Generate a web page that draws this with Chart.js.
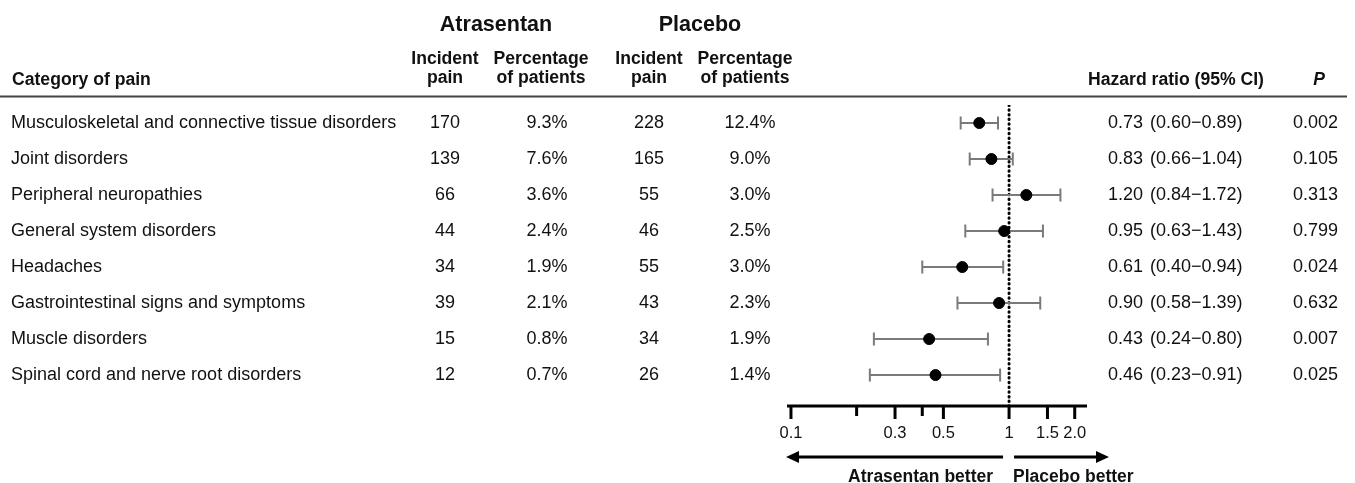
<!DOCTYPE html>
<html>
<head>
  <meta charset="UTF-8">
  <title>Incident pain forest plot</title>
  <script src="https://cdn.jsdelivr.net/npm/chart.js"></script>
  <style>
    body { margin: 0; background: #fff; }
    #wrap { width: 1355px; height: 483px; position: relative; }
  </style>
</head>
<body>
  <div id="wrap"><canvas id="forest"></canvas></div>

  <script>
    const categories = [
      "Musculoskeletal and connective tissue disorders",
      "Joint disorders",
      "Peripheral neuropathies",
      "General system disorders",
      "Headaches",
      "Gastrointestinal signs and symptoms",
      "Muscle disorders",
      "Spinal cord and nerve root disorders"
    ];
    const atrasentanCount = [170, 139, 66, 44, 34, 39, 15, 12];
    const atrasentanPct   = ["9.3%", "7.6%", "3.6%", "2.4%", "1.9%", "2.1%", "0.8%", "0.7%"];
    const placeboCount    = [228, 165, 55, 46, 55, 43, 34, 26];
    const placeboPct      = ["12.4%", "9.0%", "3.0%", "2.5%", "3.0%", "2.3%", "1.9%", "1.4%"];
    const hazardRatio = [0.73, 0.83, 1.20, 0.95, 0.61, 0.90, 0.43, 0.46];
    const ciLow       = [0.60, 0.66, 0.84, 0.63, 0.40, 0.58, 0.24, 0.23];
    const ciHigh      = [0.89, 1.04, 1.72, 1.43, 0.94, 1.39, 0.80, 0.91];
    const pValues     = ["0.002", "0.105", "0.313", "0.799", "0.024", "0.632", "0.007", "0.025"];
    const majorTicks  = [0.1, 0.3, 0.5, 1, 1.5, 2];
    const minorTicks  = [0.2, 0.4];
    const tickLabels  = ["0.1", "0.3", "0.5", "1", "1.5", "2.0"];

    const FONT = '"Liberation Sans", Arial, sans-serif';
    const fmt = v => v.toFixed(2);

    // error bar segments, broken by null points
    const ciData = [];
    hazardRatio.forEach((hr, i) => {
      ciData.push({ x: ciLow[i], y: i }, { x: ciHigh[i], y: i }, { x: 1, y: null });
    });

    const tablePlugin = {
      id: 'table',
      afterDraw(chart) {
        const c = chart.ctx;
        const ys = chart.scales.y;
        const xs = chart.scales.x;
        const area = chart.chartArea;
        c.save();
        c.fillStyle = '#111';
        c.textBaseline = 'middle';

        // header
        c.font = 'bold 21.5px ' + FONT;
        c.textAlign = 'center';
        c.fillText('Atrasentan', 496, 25);
        c.fillText('Placebo', 700, 25);
        c.font = 'bold 17.6px ' + FONT;
        c.fillText('Incident', 445, 59);
        c.fillText('pain', 445, 78);
        c.fillText('Percentage', 541, 59);
        c.fillText('of patients', 541, 78);
        c.fillText('Incident', 649, 59);
        c.fillText('pain', 649, 78);
        c.fillText('Percentage', 745, 59);
        c.fillText('of patients', 745, 78);
        c.textAlign = 'left';
        c.fillText('Category of pain', 12, 80);
        c.fillText('Hazard ratio (95% CI)', 1088, 80);
        c.font = 'italic bold 17.6px ' + FONT;
        c.textAlign = 'center';
        c.fillText('P', 1319, 80);

        c.strokeStyle = '#444';
        c.lineWidth = 2;
        c.beginPath();
        c.moveTo(0, 96.5);
        c.lineTo(1347, 96.5);
        c.stroke();

        // rows
        c.font = '18px ' + FONT;
        categories.forEach((name, i) => {
          const y = ys.getPixelForValue(i);
          c.textAlign = 'left';
          c.fillText(name, 11, y);
          c.textAlign = 'center';
          c.fillText(String(atrasentanCount[i]), 445, y);
          c.fillText(atrasentanPct[i], 547, y);
          c.fillText(String(placeboCount[i]), 649, y);
          c.fillText(placeboPct[i], 750, y);
          c.textAlign = 'left';
          c.fillText(fmt(hazardRatio[i]), 1108, y);
          c.fillText('(' + fmt(ciLow[i]) + '\u2212' + fmt(ciHigh[i]) + ')', 1150, y);
          c.textAlign = 'right';
          c.fillText(pValues[i], 1338, y);
        });

        // x axis
        const ay = area.bottom;
        c.strokeStyle = '#000';
        c.lineWidth = 3;
        c.beginPath();
        c.moveTo(area.left, ay);
        c.lineTo(area.right, ay);
        c.stroke();
        c.font = '16.5px ' + FONT;
        c.textAlign = 'center';
        majorTicks.forEach((t, k) => {
          const x = xs.getPixelForValue(t);
          c.beginPath();
          c.moveTo(x, ay);
          c.lineTo(x, ay + 13);
          c.stroke();
          c.fillText(tickLabels[k], x, ay + 27);
        });
        minorTicks.forEach(t => {
          const x = xs.getPixelForValue(t);
          c.beginPath();
          c.moveTo(x, ay);
          c.lineTo(x, ay + 10);
          c.stroke();
        });

        // direction arrows
        const x1 = xs.getPixelForValue(1);
        const arY = ay + 51;
        c.beginPath();
        c.moveTo(x1 - 6, arY);
        c.lineTo(area.left + 6, arY);
        c.moveTo(x1 + 5, arY);
        c.lineTo(1100, arY);
        c.stroke();
        c.fillStyle = '#000';
        c.beginPath();
        c.moveTo(area.left - 1, arY);
        c.lineTo(area.left + 12, arY - 6);
        c.lineTo(area.left + 12, arY + 6);
        c.closePath();
        c.fill();
        c.beginPath();
        c.moveTo(1109, arY);
        c.lineTo(1096, arY - 6);
        c.lineTo(1096, arY + 6);
        c.closePath();
        c.fill();
        c.font = 'bold 17.5px ' + FONT;
        c.fillStyle = '#111';
        c.textAlign = 'right';
        c.fillText('Atrasentan better', 993, arY + 20);
        c.textAlign = 'left';
        c.fillText('Placebo better', 1013, arY + 20);
        c.restore();
      }
    };

    new Chart(document.getElementById('forest'), {
      type: 'scatter',
      data: {
        datasets: [
          {
            label: 'Hazard ratio',
            data: hazardRatio.map((hr, i) => ({ x: hr, y: i })),
            backgroundColor: '#000',
            borderColor: '#000',
            pointRadius: 5.5,
            pointHoverRadius: 5.5
          },
          {
            type: 'line',
            label: '95% CI',
            data: ciData,
            borderColor: '#7a7a7a',
            borderWidth: 2,
            spanGaps: false,
            pointStyle: 'line',
            rotation: 90,
            pointRadius: 6.5,
            pointHoverRadius: 6.5,
            pointBorderColor: '#7a7a7a',
            pointBorderWidth: 2
          },
          {
            type: 'line',
            label: 'No effect',
            data: [{ x: 1, y: -0.5 }, { x: 1, y: 7.86 }],
            borderColor: '#000',
            borderWidth: 3,
            borderDash: [0.5, 4.2],
            borderCapStyle: 'round',
            pointRadius: 0
          }
        ]
      },
      options: {
        responsive: true,
        maintainAspectRatio: false,
        animation: false,
        devicePixelRatio: 1,
        layout: { padding: { left: 787, right: 268, top: 105, bottom: 77 } },
        plugins: { legend: { display: false }, tooltip: { enabled: false } },
        scales: {
          x: { type: 'logarithmic', min: 0.0959, max: 2.277, display: false },
          y: { type: 'linear', reverse: true, min: -0.5, max: 7.86, display: false }
        }
      },
      plugins: [tablePlugin]
    });
  </script>
</body>
</html>
